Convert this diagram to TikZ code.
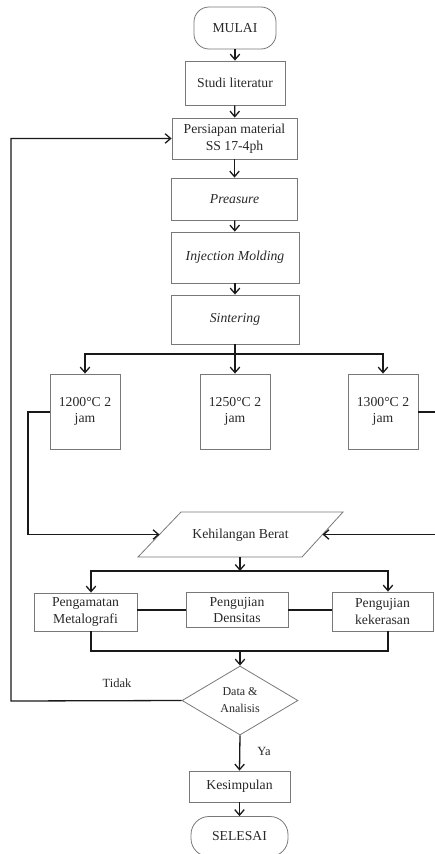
\documentclass[tikz,border=0pt]{standalone}
\usepackage{fontspec}
\setmainfont{Liberation Serif}
\usetikzlibrary{arrows.meta,shapes.geometric,calc}
\definecolor{boxgray}{RGB}{120,120,120}
\definecolor{txt}{RGB}{40,40,40}
\begin{document}
\begin{tikzpicture}[x=1pt,y=-1pt,
  base/.style={draw=boxgray,line width=0.8pt,text=txt,inner sep=0pt,align=center,
    font=\fontsize{13.7}{16.5}\selectfont},
  box/.style={base,rectangle},
  term/.style={base,rectangle,rounded corners=15pt},
  dec/.style={base,diamond,shape aspect=1.68,font=\fontsize{12}{17}\selectfont},
  conn/.style={line width=1.3pt,draw=black!90},
  arr/.style={conn,-{Straight Barb[length=5.5pt,width=9.5pt,line width=1.3pt]}},
  lbl/.style={text=txt,font=\fontsize{12.5}{15}\selectfont,inner sep=0pt}
]
\useasboundingbox (0,0) rectangle (435,854);
\begin{scope}
\clip (0,0) rectangle (435,854);
% nodes
\node[term,minimum width=82pt,minimum height=42pt] (mulai) at (235,28) {MULAI};
\node[box,minimum width=100pt,minimum height=44pt] (studi) at (235,83) {Studi literatur};
\node[box,minimum width=125pt,minimum height=41pt] (pers) at (234.5,138.5) {Persiapan material\\SS 17-4ph};
\node[box,minimum width=126pt,minimum height=42pt] (prea) at (234.5,199) {\itshape Preasure};
\node[box,minimum width=128pt,minimum height=51pt] (inj) at (235,257.5) {\itshape Injection Molding};
\node[box,minimum width=128pt,minimum height=49pt] (sint) at (235,319.5) {\itshape Sintering};
\node[box,minimum width=70pt,minimum height=75pt] (t1) at (85,411.5) {1200°C 2\\jam};
\node[box,minimum width=70pt,minimum height=75pt] (t2) at (235,411.5) {1250°C 2\\jam};
\node[box,minimum width=70pt,minimum height=75pt] (t3) at (383,411.5) {1300°C 2\\jam};
% parallelogram
\coordinate (kbTL) at (181,512); \coordinate (kbTR) at (343,512);
\coordinate (kbBR) at (302,557); \coordinate (kbBL) at (138,557);
\draw[draw=boxgray,line width=0.8pt] (kbTL) -- (kbTR) -- (kbBR) -- (kbBL) -- cycle;
\node[text=txt,font=\fontsize{13.7}{16.5}\selectfont,inner sep=0pt] (kb) at (240.5,535) {Kehilangan Berat};
\coordinate (kbL) at (159.5,534.5);
\coordinate (kbR) at (322.5,534.5);
\coordinate (kbS) at (240,557);
\node[box,minimum width=103pt,minimum height=38pt] (peng) at (85.5,612) {Pengamatan\\Metalografi};
\node[box,minimum width=102pt,minimum height=35pt] (dens) at (237,610) {Pengujian\\Densitas};
\node[box,minimum width=101pt,minimum height=39pt] (kek) at (382.5,611.5) {Pengujian\\kekerasan};
\node[dec,minimum width=116pt,minimum height=69pt] (data) at (240,700.5) {Data \&\\Analisis};
\node[box,minimum width=101pt,minimum height=31pt] (kes) at (239.5,786.5) {Kesimpulan};
\node[term,minimum width=97pt,minimum height=40pt,rounded corners=18pt] (sel) at (239.5,836.5) {SELESAI};
\node[lbl] (tidak) at (117,683) {Tidak};
\node[lbl] (ya) at (264,751) {Ya};
% coordinates
\coordinate (s1) at (235,354);
\coordinate (lx) at (28,412);
\coordinate (rx) at (436,412);
\coordinate (s2) at (240,571);
\coordinate (m1) at (91,651);
\coordinate (m2) at (388,651);
\coordinate (mc) at (240,651);
\coordinate (fb) at (11,701);
% connectors
\draw[arr] (mulai) -- (studi);
\draw[arr] (studi) -- (pers);
\draw[arr] (pers) -- (prea);
\draw[arr] (prea) -- (inj);
\draw[arr] (inj) -- (sint);
\draw[conn] (sint) -- (s1);
\draw[arr] (s1) -| (t1);
\draw[arr] (s1) -- (t2);
\draw[arr] (s1) -| (t3);
\draw[arr] (t1.west |- lx) -- (lx) |- (kbL);
\draw[arr] (t3.east |- rx) -- (rx) |- (kbR);
\draw[arr] (kbS) -- (s2);
\draw[arr] (s2) -| ([xshift=5.5pt]peng.north);
\draw[arr] (s2) -| ([xshift=5.5pt]kek.north);
\draw[conn] (dens.west -| peng.east) -- (dens.west);
\draw[conn] (dens.east) -- (dens.east -| kek.west);
\draw[conn] ([xshift=5.5pt]peng.south) -- (m1) -- (m2) -- ([xshift=5.5pt]kek.south);
\draw[arr] (mc) -- (data.north);
\draw[arr] (data.west) -- (fb) |- (pers.west);
\draw[arr] (data.south) -- (kes.north);
\draw[arr] (kes) -- (sel);
\end{scope}
\end{tikzpicture}
\end{document}
